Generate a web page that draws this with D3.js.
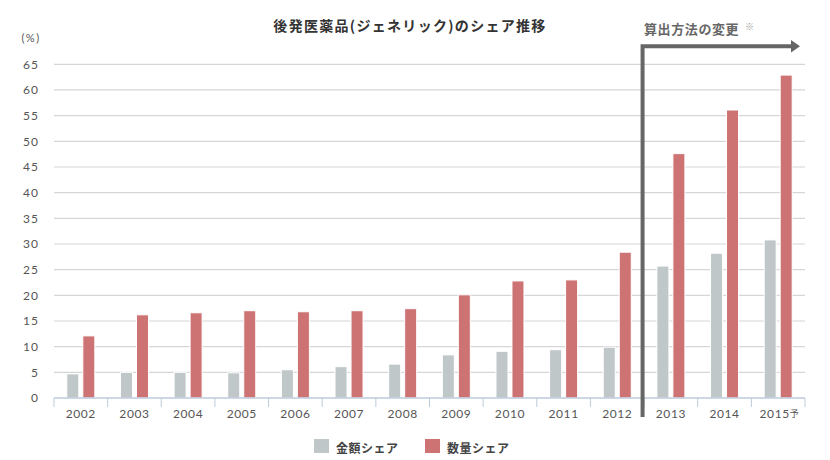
<!DOCTYPE html>
<html>
<head>
<meta charset="utf-8">
<script src="https://cdn.jsdelivr.net/npm/d3@7"></script>
<style>
  body { margin: 0; background: #fff; }
  svg text { font-family: "Lato", "Noto Sans CJK JP", sans-serif; }
  .jp { font-family: "Noto Sans CJK JP", sans-serif; }
</style>
</head>
<body>
<svg id="chart" width="830" height="460"></svg>
<script>
"use strict";

// data ************************************************************
var years = ["2002","2003","2004","2005","2006","2007","2008","2009","2010","2011","2012","2013","2014","2015"];
var yearLabels = ["2002","2003","2004","2005","2006","2007","2008","2009","2010","2011","2012","2013","2014","2015"];
var kingaku = [4.7, 5.0, 5.0, 4.9, 5.5, 6.1, 6.6, 8.4, 9.1, 9.4, 9.9, 25.7, 28.2, 30.8];   // 金額シェア
var suryo   = [12.1, 16.2, 16.6, 17.0, 16.8, 17.0, 17.4, 20.1, 22.8, 23.0, 28.4, 47.6, 56.1, 62.9]; // 数量シェア
var seriesNames = ["金額シェア", "数量シェア"];
var yTicks = [0,5,10,15,20,25,30,35,40,45,50,55,60,65];
var changeYear = "2013"; // 算出方法の変更

// layout ************************************************************
var colors = ["#bfc7c9", "#cd7373"];
var plotL = 54, plotR = 805, plotT = 64.3, plotB = 398;

var svg = d3.select("#chart");

var x = d3.scaleBand()
  .domain(years)
  .range([plotL, plotR])
  .padding(0);

var sub = d3.scaleBand()
  .domain(seriesNames)
  .range([0, 28])
  .paddingInner(0.25);

var y = d3.scaleLinear()
  .domain([0, 65])
  .range([plotB, plotT]);

// title
svg.append("text")
  .attr("class", "jp")
  .attr("x", 410)
  .attr("y", 25)
  .attr("text-anchor", "middle")
  .attr("dominant-baseline", "central")
  .style("font-size", "14px")
  .style("font-weight", "bold")
  .style("letter-spacing", "1.3px")
  .style("fill", "#333")
  .text("後発医薬品(ジェネリック)のシェア推移");

// unit
svg.append("text")
  .attr("x", 31)
  .attr("y", 37)
  .attr("text-anchor", "middle")
  .attr("dominant-baseline", "central")
  .style("font-size", "11px")
  .style("letter-spacing", "1.5px")
  .style("fill", "#555")
  .text("(%)");

// gridlines ************************************************************
svg.append("g")
  .selectAll("line")
  .data(yTicks.filter(function(d) { return d > 0; }))
  .enter()
  .append("line")
  .attr("x1", plotL)
  .attr("x2", plotR)
  .attr("y1", function(d) { return y(d); })
  .attr("y2", function(d) { return y(d); })
  .style("stroke", "#d6d6d6")
  .style("stroke-width", 1.2);

// y axis labels
var yAxis = svg.append("g")
  .attr("transform", "translate(" + 39 + ",0)")
  .call(d3.axisLeft(y).tickValues(yTicks).tickSize(0).tickPadding(0));
yAxis.select(".domain").remove();
yAxis.selectAll("text")
  .style("font-family", "Lato, sans-serif")
  .style("font-size", "12px")
  .style("letter-spacing", "1px")
  .style("fill", "#555");

// bars ************************************************************
var rows = years.map(function(yr, i) {
  return { year: yr, values: [kingaku[i], suryo[i]] };
});

var groups = svg.append("g")
  .selectAll("g")
  .data(rows)
  .enter()
  .append("g")
  .attr("transform", function(d) {
    return "translate(" + (x(d.year) + x.bandwidth() / 2 - 14) + ",0)";
  });

groups.selectAll("rect")
  .data(function(d) {
    return d.values.map(function(v, i) { return { name: seriesNames[i], value: v, i: i }; });
  })
  .enter()
  .append("rect")
  .attr("x", function(d) { return sub(d.name); })
  .attr("width", sub.bandwidth())
  .attr("y", function(d) { return y(d.value); })
  .attr("height", function(d) { return y(0) - y(d.value); })
  .style("fill", function(d) { return colors[d.i]; })
  .style("stroke", "#fff")
  .style("stroke-width", 1);

// x axis ************************************************************
svg.append("line")
  .attr("x1", plotL).attr("x2", plotR)
  .attr("y1", plotB).attr("y2", plotB)
  .style("stroke", "#bccbdb")
  .style("stroke-width", 1.5);

var edges = years.map(function(d) { return x(d); }).concat([plotR]);
svg.append("g")
  .selectAll("line")
  .data(edges)
  .enter()
  .append("line")
  .attr("x1", function(d) { return d; })
  .attr("x2", function(d) { return d; })
  .attr("y1", plotB)
  .attr("y2", plotB + 9)
  .style("stroke", "#bccbdb")
  .style("stroke-width", 1);

var xl = svg.append("g")
  .selectAll("text")
  .data(yearLabels)
  .enter()
  .append("text")
  .attr("x", function(d, i) { return x(years[i]) + x.bandwidth() / 2 + (i === years.length - 1 ? 1 : 0); })
  .attr("y", 413)
  .attr("text-anchor", "middle")
  .attr("dominant-baseline", "central")
  .style("font-size", "12px")
  .style("letter-spacing", "0.6px")
  .style("fill", "#555");
xl.append("tspan").text(function(d) { return d; });
xl.filter(function(d, i) { return i === years.length - 1; })
  .append("tspan")
  .attr("class", "jp")
  .style("font-size", "9px")
  .style("letter-spacing", "0")
  .text("予");

// 算出方法の変更 arrow ************************************************************
var ax = x(changeYear) - 1.5;
svg.append("path")
  .attr("d", "M" + ax + ",417V46.3H792")
  .style("fill", "none")
  .style("stroke", "#666")
  .style("stroke-width", 4)
  .style("stroke-linejoin", "miter");
svg.append("path")
  .attr("d", "M791,40L800,46.3L791,52.6Z")
  .style("fill", "#666");

svg.append("text")
  .attr("class", "jp")
  .attr("x", 644)
  .attr("y", 28)
  .attr("dominant-baseline", "central")
  .style("font-size", "13px")
  .style("font-weight", "bold")
  .style("letter-spacing", "0.6px")
  .style("fill", "#666")
  .text("算出方法の変更");
svg.append("text")
  .attr("class", "jp")
  .attr("x", 745)
  .attr("y", 26)
  .attr("dominant-baseline", "central")
  .style("font-size", "9px")
  .style("fill", "#999")
  .text("※");

// legend ************************************************************
var legend = svg.append("g")
  .selectAll("g")
  .data(seriesNames)
  .enter()
  .append("g")
  .attr("transform", function(d, i) { return "translate(" + (314 + i * 111) + ",439)"; });

legend.append("rect")
  .attr("width", 15)
  .attr("height", 14)
  .style("fill", function(d, i) { return colors[i]; });

legend.append("text")
  .attr("class", "jp")
  .attr("x", 22)
  .attr("y", 8)
  .attr("dominant-baseline", "central")
  .style("font-size", "12px")
  .style("font-weight", "bold")
  .style("letter-spacing", "0.5px")
  .style("fill", "#444")
  .text(function(d) { return d; });
</script>
</body>
</html>
